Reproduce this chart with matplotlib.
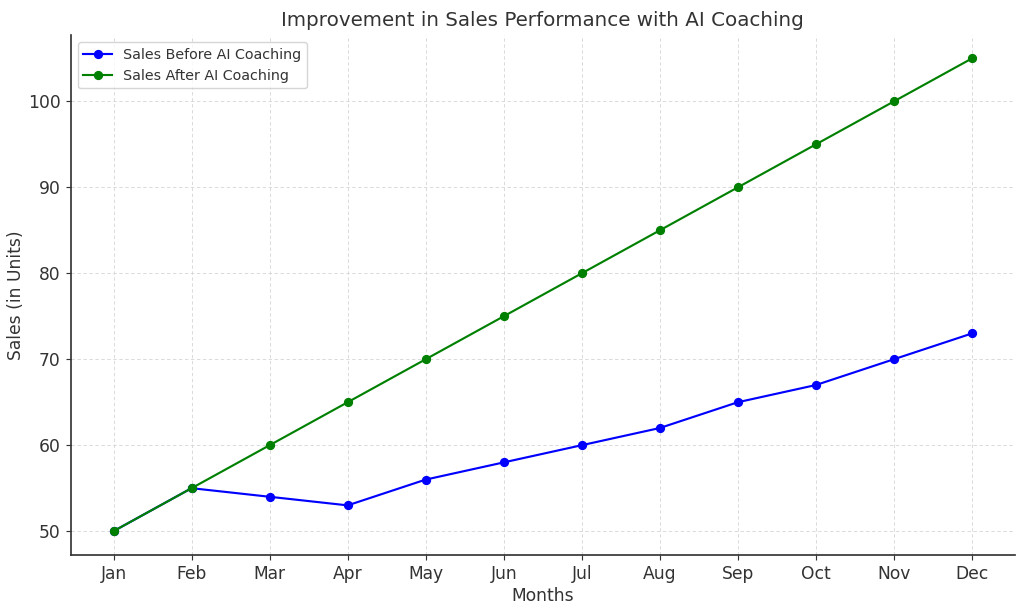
import matplotlib
matplotlib.use("Agg")
import matplotlib.pyplot as plt

months = ["Jan", "Feb", "Mar", "Apr", "May", "Jun", "Jul", "Aug", "Sep", "Oct", "Nov", "Dec"]
sales_before = [50, 55, 54, 53, 56, 58, 60, 62, 65, 67, 70, 73]
sales_after = [50, 55, 60, 65, 70, 75, 80, 85, 90, 95, 100, 105]

plt.rcParams['text.color'] = '#333333'
plt.rcParams['axes.labelcolor'] = '#333333'
plt.rcParams['xtick.color'] = '#333333'
plt.rcParams['ytick.color'] = '#333333'

fig = plt.figure(figsize=(10, 611/102.4), dpi=102.4)
ax = fig.add_axes([0.069, 0.092, 0.922, 0.851])

ax.plot(months, sales_before, marker='o', color='blue', label='Sales Before AI Coaching', markersize=5.5)
ax.plot(months, sales_after, marker='o', color='green', label='Sales After AI Coaching', markersize=5.5)

ax.set_title('Improvement in Sales Performance with AI Coaching', fontsize=14)
ax.set_xlabel('Months', fontsize=12, labelpad=3)
ax.set_ylabel('Sales (in Units)', fontsize=12, labelpad=2)
ax.tick_params(labelsize=12)
ax.grid(True, linestyle=(0, (4, 3)), color='#d5d5d5', linewidth=0.6)
ax.spines['top'].set_visible(False)
ax.spines['right'].set_visible(False)
ax.spines['left'].set_color('#333333')
ax.spines['bottom'].set_color('#333333')
ax.spines['left'].set_linewidth(1.2)
ax.spines['bottom'].set_linewidth(1.2)
ax.legend(loc='upper left', fontsize=10)

fig.savefig('out.png', dpi=102.4)
